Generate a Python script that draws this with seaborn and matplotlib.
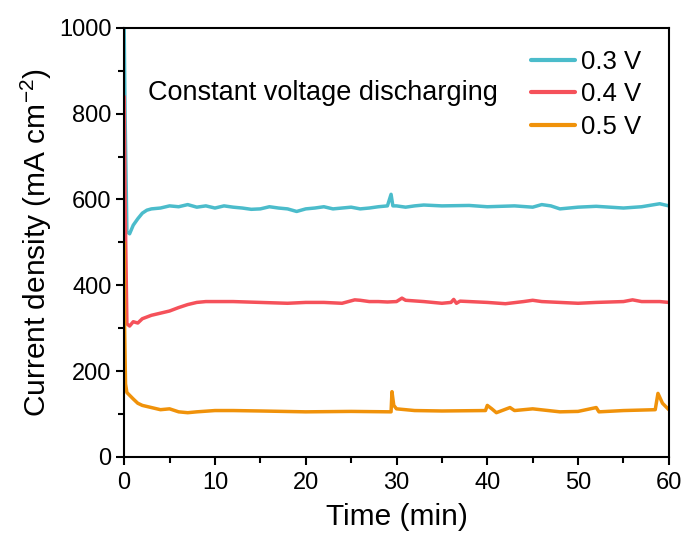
import numpy as np
import pandas as pd
import matplotlib
matplotlib.use("Agg")
import matplotlib.pyplot as plt
from matplotlib.ticker import MultipleLocator
import seaborn as sns

# ---- data ----
t_03 = [0, 0.1, 0.3, 0.6, 1, 1.5, 2, 2.5, 3, 4, 5, 6, 7, 8, 9, 10, 11, 12, 13, 14, 15, 16, 17, 18,
        19, 20, 21, 22, 23, 24, 25, 26, 27, 28, 29, 29.4, 29.6, 30, 31, 32, 33, 35, 38, 40, 43, 45,
        46, 47, 48, 50, 52, 55, 57, 59, 60]
j_03 = [1000, 800, 525, 520, 540, 555, 568, 575, 578, 580, 585, 583, 588, 582, 585, 580, 585, 582,
        580, 577, 578, 583, 580, 578, 572, 578, 580, 583, 578, 580, 582, 578, 580, 583, 585, 612,
        585, 585, 582, 585, 587, 585, 586, 583, 585, 582, 588, 585, 578, 582, 584, 580, 583, 590,
        585]

t_04 = [0, 0.1, 0.3, 0.6, 1, 1.5, 2, 3, 4, 5, 6, 7, 8, 9, 10, 12, 15, 18, 20, 22, 24, 25.4, 26, 27,
        28, 29, 30, 30.6, 31, 33, 35, 36, 36.3, 36.6, 37, 40, 42, 44, 45, 46, 48, 50, 52, 55, 56,
        57, 59, 60]
j_04 = [840, 600, 310, 305, 315, 312, 322, 330, 335, 340, 348, 355, 360, 362, 362, 362, 360, 358,
        360, 360, 358, 366, 365, 362, 362, 361, 362, 370, 365, 362, 358, 360, 367, 358, 363, 360,
        357, 362, 365, 362, 360, 358, 360, 362, 366, 362, 362, 360]

t_05 = [0, 0.05, 0.15, 0.3, 1, 1.5, 2, 3, 4, 5, 6, 7, 8, 10, 12, 15, 20, 25, 29.4, 29.5, 29.7, 30,
        32, 35, 39.8, 40, 40.5, 41, 42.5, 43, 45, 48, 50, 52, 52.3, 55, 58.5, 58.8, 59.3, 60]
j_05 = [500, 300, 170, 150, 135, 125, 120, 115, 110, 112, 105, 103, 105, 108, 108, 107, 105, 106,
        105, 152, 120, 112, 108, 107, 108, 120, 112, 103, 115, 108, 112, 105, 106, 115, 105, 108,
        110, 148, 125, 110]

labels = ["0.3 V", "0.4 V", "0.5 V"]
colors = ["#4BBCCB", "#F5515A", "#F0920A"]

df = pd.concat([
    pd.DataFrame({"t": t_03, "j": j_03, "V": labels[0]}),
    pd.DataFrame({"t": t_04, "j": j_04, "V": labels[1]}),
    pd.DataFrame({"t": t_05, "j": j_05, "V": labels[2]}),
], ignore_index=True)

sns.set_style("white")
plt.rcParams["font.family"] = ["Liberation Sans", "DejaVu Sans"]
plt.rcParams["mathtext.fontset"] = "custom"
plt.rcParams["mathtext.rm"] = "Liberation Sans"
plt.rcParams["mathtext.it"] = "Liberation Sans:italic"
plt.rcParams["text.color"] = "black"
plt.rcParams["axes.labelcolor"] = "black"

fig = plt.figure(figsize=(6.86, 5.35), dpi=100)
ax = fig.add_axes([0.181, 0.146, 0.794, 0.802])

sns.lineplot(data=df, x="t", y="j", hue="V", palette=dict(zip(labels, colors)),
             linewidth=2.5, ax=ax, sort=False, estimator=None)

ax.set_xlim(0, 60)
ax.set_ylim(0, 1000)
ax.xaxis.set_major_locator(MultipleLocator(10))
ax.xaxis.set_minor_locator(MultipleLocator(5))
ax.yaxis.set_major_locator(MultipleLocator(200))
ax.yaxis.set_minor_locator(MultipleLocator(100))
ax.tick_params(which="both", direction="out", bottom=True, left=True, top=False, right=False,
               width=1.5, colors="black", labelsize=17)
ax.tick_params(which="major", length=6, pad=3)
ax.tick_params(axis="x", which="major", pad=5)
ax.tick_params(which="minor", length=4)
for s in ax.spines.values():
    s.set_linewidth(1.5)
    s.set_color("black")

ax.set_xlabel("Time (min)", fontsize=21.5, labelpad=6)
ax.set_ylabel("Current density (mA cm$^{-2}$)", fontsize=21.5, labelpad=4)

ax.text(0.044, 0.848, "Constant voltage discharging", transform=ax.transAxes, fontsize=19.5,
        va="center", ha="left")

leg = ax.legend(loc="upper right", bbox_to_anchor=(0.982, 0.99), frameon=False, fontsize=18.5,
                handlelength=1.7, handletextpad=0.25, labelspacing=0.32, borderaxespad=0.3)
for h in leg.get_lines():
    h.set_linewidth(3)

fig.savefig("out.png", dpi=100)
